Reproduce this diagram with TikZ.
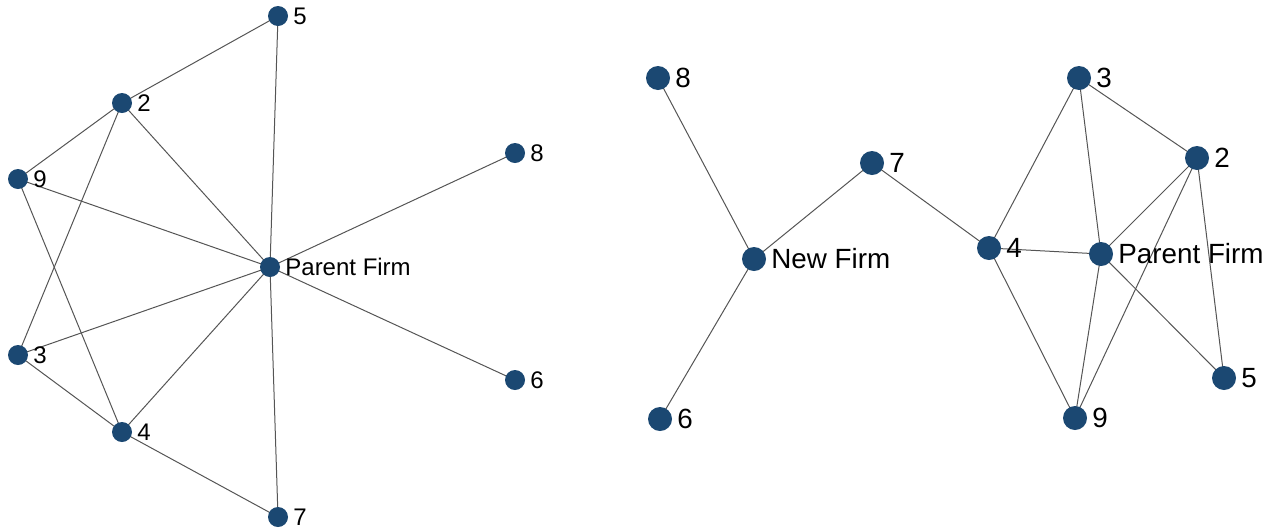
\documentclass[tikz,border=0pt]{standalone}
\usepackage{fontspec}
\setmainfont{Liberation Sans}
\pgfdeclarelayer{edges}
\pgfsetlayers{edges,main}
\definecolor{firmblue}{RGB}{27,72,114}
\definecolor{linkgray}{RGB}{85,85,85}
\begin{document}
\begin{tikzpicture}[x=1pt,y=-1pt,
  smalldot/.style={circle,fill=firmblue,draw=none,inner sep=0pt,minimum size=20pt,
    label distance=4pt},
  bigdot/.style={circle,fill=firmblue,draw=none,inner sep=0pt,minimum size=24pt,
    label distance=5pt},
  smalltag/.style={font=\fontsize{24}{24}\selectfont,inner sep=0pt,xshift=5pt},
  bigtag/.style={font=\fontsize{27.8}{27.8}\selectfont,inner sep=0pt,xshift=5pt},
  link/.style={draw=linkgray,line width=1pt}]
\useasboundingbox (0,0) rectangle (1274,531);

% ---- network of the parent firm ----
\node[smalldot,label={[smalltag]right:5}] (l5) at (278,16) {};
\node[smalldot,label={[smalltag]right:2}] (l2) at (122,103) {};
\node[smalldot,label={[smalltag]right:9}] (l9) at (18,179) {};
\node[smalldot,label={[smalltag]right:8}] (l8) at (515,153) {};
\node[smalldot,label={[smalltag]right:Parent Firm}] (lp) at (270,267) {};
\node[smalldot,label={[smalltag]right:3}] (l3) at (18,355) {};
\node[smalldot,label={[smalltag]right:6}] (l6) at (515,380) {};
\node[smalldot,label={[smalltag]right:4}] (l4) at (122,432) {};
\node[smalldot,label={[smalltag]right:7}] (l7) at (278,517) {};

\begin{pgfonlayer}{edges}
\foreach \a/\b in {l5/l2,l5/lp,l2/l9,l2/l3,l2/lp,l9/lp,l9/l4,l8/lp,l3/lp,l3/l4,l4/lp,l6/lp,l4/l7,l7/lp}
  \draw[link] (\a.center) -- (\b.center);
\end{pgfonlayer}

% ---- network after the new firm ----
\node[bigdot,label={[bigtag]right:8}] (r8) at (658,78) {};
\node[bigdot,label={[bigtag]right:7}] (r7) at (872,163) {};
\node[bigdot,label={[bigtag]right:New Firm}] (rn) at (754,259) {};
\node[bigdot,label={[bigtag]right:6}] (r6) at (660,419) {};
\node[bigdot,label={[bigtag]right:4}] (r4) at (989,248) {};
\node[bigdot,label={[bigtag]right:3}] (r3) at (1079,78) {};
\node[bigdot,label={[bigtag]right:2}] (r2) at (1197,158) {};
\node[bigdot,label={[bigtag]right:Parent Firm}] (rp) at (1101,254) {};
\node[bigdot,label={[bigtag]right:5}] (r5) at (1224,378) {};
\node[bigdot,label={[bigtag]right:9}] (r9) at (1075,418) {};

\begin{pgfonlayer}{edges}
\foreach \a/\b in {r8/rn,r6/rn,rn/r7,r7/r4,r4/r3,r4/rp,r4/r9,r3/rp,r3/r2,r2/rp,r2/r9,r2/r5,rp/r5,rp/r9}
  \draw[link] (\a.center) -- (\b.center);
\end{pgfonlayer}
\end{tikzpicture}
\end{document}
